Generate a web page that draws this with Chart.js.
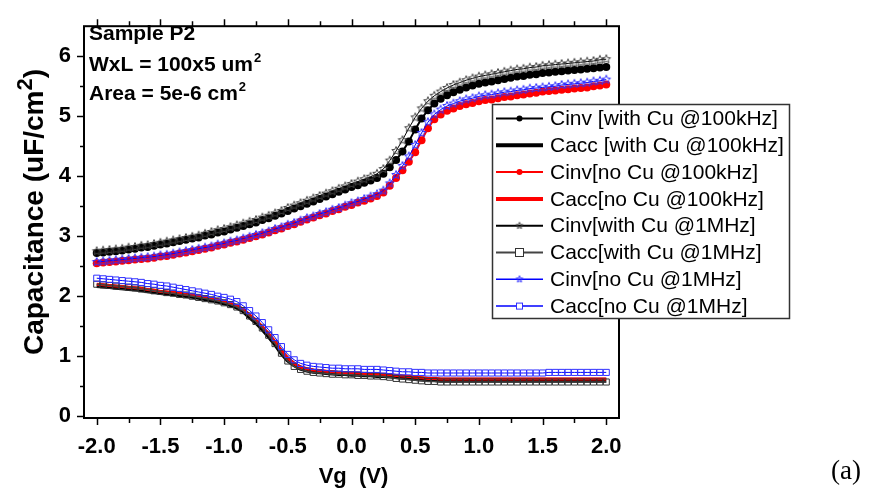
<!DOCTYPE html>
<html>
<head>
<meta charset="utf-8">
<script src="https://cdn.jsdelivr.net/npm/chart.js@4.4.1/dist/chart.umd.min.js"></script>
<style>
  html, body { margin: 0; padding: 0; background: #fff; }
  #wrap { width: 869px; height: 488px; }
</style>
</head>
<body>
<div id="wrap"><canvas id="cv" width="869" height="488"></canvas></div>
<script>
// ==================== Dados ====================
const vg = [
  -2.00,-1.95,-1.90,-1.85,-1.80,-1.75,-1.70,-1.65,-1.60,-1.55,
  -1.50,-1.45,-1.40,-1.35,-1.30,-1.25,-1.20,-1.15,-1.10,-1.05,
  -1.00,-0.95,-0.90,-0.85,-0.80,-0.75,-0.70,-0.65,-0.60,-0.55,
  -0.50,-0.45,-0.40,-0.35,-0.30,-0.25,-0.20,-0.15,-0.10,-0.05,
   0.00, 0.05, 0.10, 0.15, 0.20, 0.25, 0.30, 0.35, 0.40, 0.45,
   0.50, 0.55, 0.60, 0.65, 0.70, 0.75, 0.80, 0.85, 0.90, 0.95,
   1.00, 1.05, 1.10, 1.15, 1.20, 1.25, 1.30, 1.35, 1.40, 1.45,
   1.50, 1.55, 1.60, 1.65, 1.70, 1.75, 1.80, 1.85, 1.90, 1.95,
   2.00
];

// Cinv [with Cu @100kHz]
const cinvCu100k = [
  2.72,2.73,2.74,2.75,2.76,2.78,2.79,2.81,2.82,2.84,
  2.86,2.88,2.90,2.92,2.94,2.96,2.98,3.01,3.03,3.06,
  3.08,3.11,3.14,3.17,3.20,3.23,3.27,3.30,3.34,3.38,
  3.42,3.46,3.50,3.54,3.58,3.62,3.66,3.70,3.74,3.78,
  3.82,3.85,3.89,3.93,3.97,4.04,4.15,4.27,4.41,4.58,
  4.78,4.96,5.10,5.21,5.29,5.35,5.40,5.44,5.48,5.51,
  5.54,5.56,5.58,5.60,5.62,5.64,5.66,5.67,5.69,5.70,
  5.72,5.73,5.74,5.75,5.76,5.77,5.78,5.79,5.80,5.81,
  5.82
];

// Cacc [with Cu @100kHz]
const caccCu100k = [
  2.18,2.17,2.16,2.15,2.14,2.13,2.12,2.11,2.09,2.08,
  2.06,2.05,2.04,2.03,2.01,2.00,1.98,1.96,1.94,1.92,
  1.89,1.86,1.82,1.76,1.66,1.57,1.46,1.34,1.21,1.06,
  0.94,0.86,0.80,0.77,0.75,0.74,0.73,0.72,0.71,0.71,
  0.70,0.70,0.69,0.69,0.68,0.68,0.67,0.66,0.65,0.64,
  0.63,0.62,0.61,0.61,0.60,0.60,0.60,0.60,0.60,0.60,
  0.60,0.60,0.60,0.60,0.60,0.60,0.60,0.60,0.60,0.60,
  0.60,0.60,0.60,0.60,0.60,0.60,0.60,0.60,0.60,0.60,
  0.60
];

// Cinv[no Cu @100kHz]
const cinvNoCu100k = [
  2.55,2.56,2.57,2.58,2.59,2.60,2.61,2.62,2.63,2.64,
  2.66,2.67,2.69,2.71,2.73,2.75,2.77,2.79,2.81,2.84,
  2.86,2.89,2.91,2.94,2.97,3.00,3.03,3.06,3.10,3.13,
  3.17,3.20,3.24,3.28,3.31,3.35,3.38,3.42,3.45,3.49,
  3.52,3.56,3.59,3.63,3.67,3.73,3.84,3.97,4.10,4.24,
  4.40,4.60,4.80,4.95,5.03,5.09,5.13,5.17,5.20,5.22,
  5.25,5.27,5.28,5.30,5.32,5.33,5.35,5.36,5.38,5.39,
  5.41,5.42,5.43,5.44,5.45,5.46,5.47,5.48,5.50,5.51,
  5.53
];

// Cacc[no Cu @100kHz]
const caccNoCu100k = [
  2.20,2.19,2.18,2.17,2.16,2.15,2.14,2.13,2.11,2.10,
  2.08,2.07,2.06,2.05,2.03,2.02,2.00,1.98,1.96,1.94,
  1.91,1.88,1.84,1.78,1.69,1.60,1.49,1.37,1.24,1.09,
  0.97,0.88,0.82,0.79,0.77,0.76,0.75,0.74,0.73,0.73,
  0.72,0.72,0.71,0.71,0.70,0.70,0.69,0.68,0.67,0.66,
  0.65,0.64,0.63,0.63,0.62,0.62,0.62,0.62,0.62,0.62,
  0.62,0.62,0.62,0.62,0.62,0.62,0.62,0.62,0.62,0.62,
  0.62,0.62,0.62,0.62,0.62,0.62,0.62,0.62,0.62,0.62,
  0.62
];

// Cinv[with Cu @1MHz]
const cinvCu1M = [
  2.75,2.76,2.77,2.78,2.79,2.81,2.82,2.84,2.85,2.87,
  2.89,2.91,2.93,2.95,2.97,2.99,3.01,3.04,3.07,3.10,
  3.12,3.15,3.18,3.21,3.24,3.27,3.31,3.34,3.38,3.42,
  3.47,3.51,3.55,3.59,3.63,3.67,3.71,3.75,3.79,3.83,
  3.87,3.91,3.95,3.99,4.04,4.12,4.26,4.42,4.60,4.80,
  4.98,5.13,5.25,5.34,5.41,5.47,5.52,5.56,5.60,5.63,
  5.66,5.68,5.70,5.72,5.74,5.76,5.78,5.79,5.81,5.82,
  5.84,5.85,5.86,5.87,5.88,5.89,5.90,5.91,5.92,5.94,
  5.95
];

// Cacc[with Cu @1MHz]
const caccCu1M = [
  2.20,2.19,2.18,2.17,2.16,2.15,2.14,2.12,2.11,2.09,
  2.08,2.06,2.05,2.03,2.02,2.00,1.98,1.96,1.94,1.92,
  1.89,1.86,1.82,1.76,1.67,1.58,1.47,1.35,1.21,1.05,
  0.92,0.83,0.78,0.75,0.73,0.72,0.71,0.70,0.70,0.69,
  0.69,0.68,0.68,0.67,0.67,0.66,0.65,0.63,0.62,0.61,
  0.60,0.59,0.58,0.58,0.57,0.57,0.57,0.57,0.57,0.57,
  0.57,0.57,0.57,0.57,0.57,0.57,0.57,0.57,0.57,0.57,
  0.57,0.57,0.57,0.57,0.57,0.57,0.57,0.57,0.57,0.57,
  0.57
];

// Cinv[no Cu @1MHz]
const cinvNoCu1M = [
  2.57,2.58,2.59,2.60,2.61,2.62,2.63,2.64,2.65,2.66,
  2.68,2.69,2.71,2.73,2.75,2.77,2.79,2.81,2.83,2.86,
  2.88,2.91,2.93,2.96,2.99,3.02,3.05,3.08,3.12,3.15,
  3.19,3.22,3.26,3.30,3.33,3.37,3.40,3.44,3.47,3.51,
  3.55,3.58,3.62,3.66,3.70,3.76,3.88,4.02,4.17,4.33,
  4.52,4.72,4.90,5.03,5.11,5.17,5.21,5.25,5.28,5.30,
  5.33,5.35,5.36,5.38,5.40,5.41,5.43,5.44,5.46,5.47,
  5.48,5.49,5.50,5.52,5.53,5.54,5.55,5.56,5.58,5.59,
  5.61
];

// Cacc[no Cu @1MHz]
const caccNoCu1M = [
  2.30,2.29,2.28,2.27,2.26,2.25,2.24,2.23,2.21,2.20,
  2.18,2.17,2.15,2.13,2.11,2.09,2.07,2.05,2.03,2.00,
  1.98,1.95,1.91,1.84,1.76,1.67,1.56,1.44,1.31,1.16,
  1.03,0.94,0.88,0.85,0.83,0.82,0.81,0.80,0.80,0.79,
  0.79,0.79,0.78,0.78,0.78,0.77,0.76,0.75,0.74,0.74,
  0.73,0.73,0.72,0.72,0.72,0.72,0.72,0.72,0.72,0.72,
  0.72,0.72,0.72,0.72,0.72,0.72,0.72,0.72,0.72,0.72,
  0.72,0.73,0.73,0.73,0.73,0.73,0.73,0.73,0.73,0.73,
  0.73
];

const xTicks = [-2.0, -1.5, -1.0, -0.5, 0.0, 0.5, 1.0, 1.5, 2.0];
const xMinor = [-1.75, -1.25, -0.75, -0.25, 0.25, 0.75, 1.25, 1.75];
const yTicks = [0, 1, 2, 3, 4, 5, 6];
const yMinor = [0.5, 1.5, 2.5, 3.5, 4.5, 5.5];

const infoLines = ['Sample P2', 'WxL = 100x5 um', 'Area = 5e-6 cm'];

// ==================== Estilos ====================
const FONT = "'Liberation Sans', Arial, Helvetica, sans-serif";

function starImage(color, r) {
  const s = Math.ceil(r * 2 + 3);
  const c = document.createElement('canvas');
  c.width = s; c.height = s;
  const g = c.getContext('2d');
  g.strokeStyle = color;
  g.lineWidth = 1;
  g.beginPath();
  for (let k = 0; k < 10; k++) {
    const a = -Math.PI / 2 + k * Math.PI / 5;
    const rr = k % 2 ? r * 0.45 : r;
    g.lineTo(s / 2 + rr * Math.cos(a), s / 2 + rr * Math.sin(a));
  }
  g.closePath();
  g.stroke();
  return c;
}

const starBlack = starImage('#444', 4.5);
const starBlue = starImage('#3030ff', 4.5);
const starBlackSmall = starImage('#444', 3.5);
const starBlueSmall = starImage('#3030ff', 3.5);

const pts = arr => vg.map((v, i) => ({ x: v, y: arr[i] }));

const series = [
  { label: 'Cinv [with Cu @100kHz]', data: cinvCu100k, color: '#000', width: 2, marker: 'circle', radius: 4, fill: '#000', legend: { width: 2, marker: 'dot' } },
  { label: 'Cacc [with Cu @100kHz]', data: caccCu100k, color: '#000', width: 5, marker: false, radius: 0, legend: { width: 4 } },
  { label: 'Cinv[no Cu @100kHz]', data: cinvNoCu100k, color: '#ff0000', width: 2, marker: 'circle', radius: 4, fill: '#ff0000', legend: { width: 2, marker: 'dot' } },
  { label: 'Cacc[no Cu @100kHz]', data: caccNoCu100k, color: '#ff0000', width: 3, marker: false, radius: 0, legend: { width: 4 } },
  { label: 'Cinv[with Cu @1MHz]', data: cinvCu1M, color: '#000', width: 1, marker: starBlack, radius: 4.5, legend: { width: 2, marker: 'star', img: starBlackSmall } },
  { label: 'Cacc[with Cu @1MHz]', data: caccCu1M, color: '#444', width: 1.5, marker: 'rect', radius: 4.3, stroke: '#333', legend: { width: 2, marker: 'square', size: 8 } },
  { label: 'Cinv[no Cu @1MHz]', data: cinvNoCu1M, color: '#0000ff', width: 1, marker: starBlue, radius: 4.5, legend: { width: 1.5, marker: 'star', img: starBlueSmall } },
  { label: 'Cacc[no Cu @1MHz]', data: caccNoCu1M, color: '#0000ff', width: 1, marker: 'rect', radius: 4.3, stroke: '#3030ff', legend: { width: 1.5, marker: 'square', size: 6 } }
];

const datasets = series.map((s, i) => ({
  label: s.label,
  data: pts(s.data),
  borderColor: s.color,
  borderWidth: s.width,
  pointStyle: s.marker || 'circle',
  pointRadius: s.radius,
  pointBackgroundColor: s.fill || 'rgba(0,0,0,0)',
  pointBorderColor: s.stroke || s.color,
  pointBorderWidth: s.fill ? 0 : 1,
  tension: 0,
  order: series.length - 1 - i
}));

// ==================== Moldura, ticks e textos ====================
const framePlugin = {
  id: 'frame',
  afterDraw(chart) {
    const ctx = chart.ctx;
    const a = chart.chartArea;
    const xs = chart.scales.x, ys = chart.scales.y;
    ctx.save();
    ctx.strokeStyle = '#000';
    ctx.lineWidth = 2;
    ctx.strokeRect(a.left, a.top, a.right - a.left, a.bottom - a.top);

    ctx.lineWidth = 1.5;
    ctx.beginPath();
    const tickX = (vals, len) => vals.forEach(v => {
      const px = Math.round(xs.getPixelForValue(v)) + 0.5;
      ctx.moveTo(px, a.bottom); ctx.lineTo(px, a.bottom + len);
      ctx.moveTo(px, a.top); ctx.lineTo(px, a.top - len);
    });
    const tickY = (vals, len) => vals.forEach(v => {
      const py = Math.round(ys.getPixelForValue(v)) + 0.5;
      ctx.moveTo(a.left, py); ctx.lineTo(a.left - len, py);
    });
    tickX(xTicks, 7); tickX(xMinor, 5);
    tickY(yTicks, 7); tickY(yMinor, 4);
    ctx.stroke();

    // titulo do eixo x
    ctx.fillStyle = '#000';
    ctx.font = `bold 22px ${FONT}`;
    ctx.textAlign = 'center';
    ctx.textBaseline = 'alphabetic';
    ctx.fillText('Vg  (V)', (a.left + a.right) / 2 + 2, 483);

    // titulo do eixo y
    ctx.save();
    ctx.translate(43, 212);
    ctx.rotate(-Math.PI / 2);
    ctx.textAlign = 'left';
    const main = 'Capacitance (uF/cm';
    ctx.font = `bold 28px ${FONT}`;
    const w1 = ctx.measureText(main).width;
    const w3 = ctx.measureText(')').width;
    ctx.font = `bold 22px ${FONT}`;
    const w2 = ctx.measureText('2').width;
    let x0 = -(w1 + w2 + w3) / 2;
    ctx.font = `bold 28px ${FONT}`;
    ctx.fillText(main, x0, 0);
    ctx.font = `bold 22px ${FONT}`;
    ctx.fillText('2', x0 + w1, -11);
    ctx.font = `bold 28px ${FONT}`;
    ctx.fillText(')', x0 + w1 + w2, 0);
    ctx.restore();

    // bloco de informacoes da amostra
    ctx.textAlign = 'left';
    const baselines = [40, 71, 100];
    infoLines.forEach((t, i) => {
      ctx.font = `bold 21px ${FONT}`;
      ctx.fillText(t, 89, baselines[i]);
      if (i > 0) {
        const w = ctx.measureText(t).width;
        ctx.font = `bold 13px ${FONT}`;
        ctx.fillText('2', 89 + w + 1, baselines[i] - 9);
      }
    });

    // (a)
    ctx.font = `27px 'Liberation Serif', 'Times New Roman', serif`;
    ctx.fillText('(a)', 831, 479);

    // legenda
    const lx = 492, ly = 104, lw = 297, lh = 214;
    ctx.fillStyle = '#fff';
    ctx.fillRect(lx, ly, lw, lh);
    ctx.strokeStyle = '#333';
    ctx.lineWidth = 1.5;
    ctx.strokeRect(lx + 0.5, ly + 0.5, lw, lh);
    ctx.font = `21px ${FONT}`;
    ctx.textBaseline = 'middle';
    series.forEach((s, i) => {
      const cy = 118.5 + i * 26.8;
      const lg = s.legend;
      ctx.strokeStyle = s.color;
      ctx.lineWidth = lg.width;
      ctx.beginPath();
      ctx.moveTo(496, cy); ctx.lineTo(543, cy);
      ctx.stroke();
      const mx = 519.5;
      if (lg.marker === 'dot') {
        ctx.fillStyle = s.color;
        ctx.beginPath(); ctx.arc(mx, cy, 3, 0, Math.PI * 2); ctx.fill();
      } else if (lg.marker === 'star') {
        ctx.drawImage(lg.img, mx - lg.img.width / 2, cy - lg.img.height / 2);
      } else if (lg.marker === 'square') {
        ctx.fillStyle = '#fff';
        ctx.fillRect(mx - lg.size / 2, cy - lg.size / 2, lg.size, lg.size);
        ctx.strokeStyle = s.stroke;
        ctx.lineWidth = 1;
        ctx.strokeRect(mx - lg.size / 2, cy - lg.size / 2, lg.size, lg.size);
      }
      ctx.fillStyle = '#000';
      ctx.fillText(s.label, 550, cy + 1);
    });
    ctx.restore();
  }
};

// ==================== Grafico ====================
const tickFont = { family: FONT, size: 22, weight: 'bold' };

new Chart(document.getElementById('cv').getContext('2d'), {
  type: 'line',
  data: { datasets },
  options: {
    responsive: false,
    animation: false,
    devicePixelRatio: 1,
    layout: { padding: { top: 16, right: 250, left: 0, bottom: 0 } },
    plugins: { legend: { display: false }, tooltip: { enabled: false } },
    scales: {
      x: {
        type: 'linear', min: -2.1, max: 2.1,
        grid: { display: false, drawTicks: false },
        border: { display: false },
        ticks: { font: tickFont, color: '#000', padding: 16, maxRotation: 0, callback: v => v.toFixed(1) },
        afterBuildTicks: s => { s.ticks = xTicks.map(v => ({ value: v })); },
        afterFit: s => { s.height = 70; }
      },
      y: {
        type: 'linear', min: -0.03, max: 6.5,
        grid: { display: false, drawTicks: false },
        border: { display: false },
        ticks: { font: tickFont, color: '#000', padding: 13, callback: v => String(v) },
        afterBuildTicks: s => { s.ticks = yTicks.map(v => ({ value: v })); },
        afterFit: s => { s.width = 84; }
      }
    }
  },
  plugins: [framePlugin]
});
</script>
</body>
</html>
